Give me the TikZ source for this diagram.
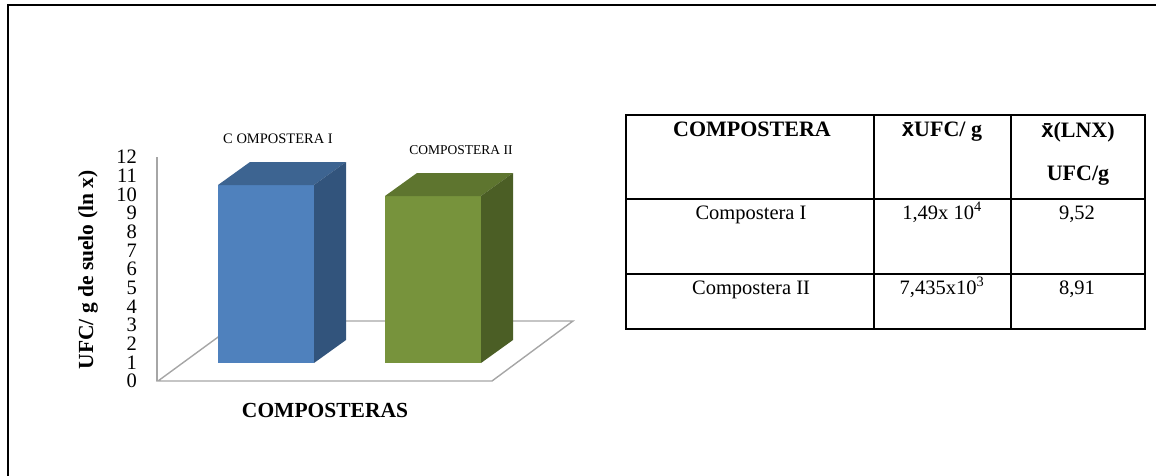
\documentclass[tikz,border=0pt]{standalone}
\usepackage{fontspec}
\setmainfont{Liberation Serif}
\newfontfamily\xbarfont{Liberation Sans}
\definecolor{axisgray}{HTML}{A6A6A6}
\definecolor{blueFront}{HTML}{4F81BD}
\definecolor{blueTop}{HTML}{3D6491}
\definecolor{blueSide}{HTML}{32547C}
\definecolor{greenFront}{HTML}{77933C}
\definecolor{greenTop}{HTML}{5E752F}
\definecolor{greenSide}{HTML}{4B5E25}
\newcommand{\xbar}{{\xbarfont\bfseries x^^^^0304}}
\begin{document}
\begin{tikzpicture}[x=1pt,y=-1pt,
  frameline/.style={line width=2pt,black,line join=miter},
  axisline/.style={draw=axisgray,line width=1.4pt,line join=miter},
  tabline/.style={line width=2.2pt,black},
  ticklbl/.style={anchor=east,inner sep=0pt,font=\fontsize{20.5}{20.5}\selectfont},
  axistitle/.style={inner sep=0pt,font=\fontsize{21.5}{21.5}\selectfont\bfseries},
  barlbl/.style={inner sep=0pt,font=\fontsize{13.5}{13.5}\selectfont},
  headtxt/.style={anchor=base,inner sep=0pt,font=\fontsize{22}{22}\selectfont\bfseries},
  celltxt/.style={anchor=base,inner sep=0pt,font=\fontsize{20.5}{20.5}\selectfont}]
\useasboundingbox (0,0) rectangle (1156,476);

% outer frame (top and left edges)
\draw[frameline] (8,476) -- (8,5) -- (1156,5);

% chart floor and value axis
\draw[axisline] (158,381) -- (492,381) -- (573,321) -- (240,321) -- cycle;
\draw[axisline] (157,381) -- (157,157);

% value axis tick labels
\foreach \v in {0,...,12}
  \node[ticklbl] (t\v) at (137,{381-18.67*\v}) {\v};

% bar: Compostera I
\fill[blueFront] (218,185) rectangle (314,363);
\fill[blueTop] (218,185) -- (250,162) -- (346,162) -- (314,185) -- cycle;
\fill[blueSide] (314,185) -- (346,162) -- (346,340) -- (314,363) -- cycle;

% bar: Compostera II
\fill[greenFront] (385,196) rectangle (481,363);
\fill[greenTop] (385,196) -- (417,173) -- (513,173) -- (481,196) -- cycle;
\fill[greenSide] (481,196) -- (513,173) -- (513,340) -- (481,363) -- cycle;

% bar labels
\node[barlbl,font=\fontsize{14.5}{14.5}\selectfont] (lblA) at (278,139) {C OMPOSTERA I};
\node[barlbl] (lblB) at (461,150) {COMPOSTERA II};

% axis titles
\node[axistitle,rotate=90] (ytitle) at (88,270) {UFC/ g de suelo (ln x)};
\node[axistitle] (xtitle) at (325,410) {COMPOSTERAS};

% table grid
\draw[tabline] (626,115) rectangle (1145,329);
\draw[tabline] (626,199) -- (1145,199);
\draw[tabline] (626,274) -- (1145,274);
\draw[tabline] (874,115) -- (874,329);
\draw[tabline] (1011,115) -- (1011,329);

% table header
\node[headtxt] (h1) at (752,137) {COMPOSTERA};
\node[headtxt] (h2) at (942,137) {\xbar UFC/ g};
\node[headtxt] (h3) at (1078,138) {\xbar(LNX)};
\node[headtxt] (h3b) at (1078,180) {UFC/g};

% table rows
\node[celltxt] (r1a) at (751,219) {Compostera I};
\node[celltxt] (r1b) at (942,219) {1,49x 10\textsuperscript{4}};
\node[celltxt] (r1c) at (1077,219) {9,52};
\node[celltxt] (r2a) at (751,294) {Compostera II};
\node[celltxt] (r2b) at (942,294) {7,435x10\textsuperscript{3}};
\node[celltxt] (r2c) at (1077,294) {8,91};
\end{tikzpicture}
\end{document}
